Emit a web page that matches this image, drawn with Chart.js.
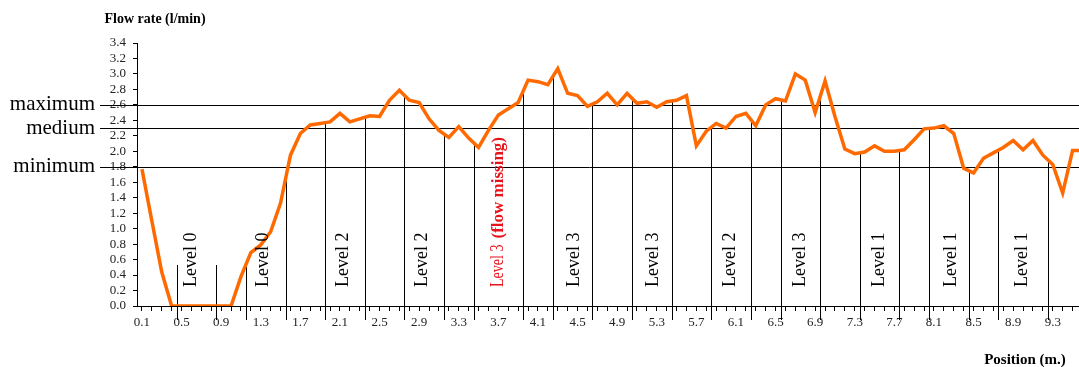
<!DOCTYPE html>
<html><head><meta charset="utf-8">
<script src="https://cdn.jsdelivr.net/npm/chart.js@4.4.0/dist/chart.umd.min.js"></script>
<style>html,body{margin:0;padding:0;background:#fff;}#wrap{width:1079px;height:367px;position:relative;}</style>
</head><body><div id="wrap"><canvas id="c"></canvas></div>
<script>
// Position along the pipe (m.)
const positions = [0.1,0.2,0.3,0.4,0.5,0.6,0.7,0.8,0.9,1.0,
  1.1,1.2,1.3,1.4,1.5,1.6,1.7,1.8,1.9,2.0,
  2.1,2.2,2.3,2.4,2.5,2.6,2.7,2.8,2.9,3.0,
  3.1,3.2,3.3,3.4,3.5,3.6,3.7,3.8,3.9,4.0,
  4.1,4.2,4.3,4.4,4.5,4.6,4.7,4.8,4.9,5.0,
  5.1,5.2,5.3,5.4,5.5,5.6,5.7,5.8,5.9,6.0,
  6.1,6.2,6.3,6.4,6.5,6.6,6.7,6.8,6.9,7.0,
  7.1,7.2,7.3,7.4,7.5,7.6,7.7,7.8,7.9,8.0,
  8.1,8.2,8.3,8.4,8.5,8.6,8.7,8.8,8.9,9.0,
  9.1,9.2,9.3,9.4,9.5,9.6];
// Flow rate (l/min)
const flowRate = [1.77,1.10,0.44,0.00,0.00,0.00,0.00,0.00,0.00,0.00,
  0.38,0.69,0.79,0.96,1.33,1.95,2.23,2.34,2.36,2.38,
  2.49,2.38,2.42,2.46,2.45,2.66,2.79,2.66,2.63,2.42,
  2.27,2.18,2.32,2.17,2.05,2.27,2.47,2.55,2.63,2.92,
  2.90,2.86,3.07,2.75,2.72,2.58,2.64,2.75,2.60,2.75,
  2.62,2.64,2.57,2.64,2.66,2.72,2.07,2.26,2.36,2.30,
  2.45,2.49,2.33,2.60,2.68,2.65,3.00,2.92,2.50,2.91,
  2.45,2.03,1.97,1.99,2.07,2.00,2.00,2.02,2.15,2.29,
  2.30,2.33,2.23,1.78,1.72,1.91,1.98,2.05,2.14,2.02,
  2.14,1.95,1.83,1.46,2.01,2.01];
const xTickLabels = ['0.1','0.5','0.9','1.3','1.7','2.1','2.5','2.9','3.3','3.7','4.1','4.5',
  '4.9','5.3','5.7','6.1','6.5','6.9','7.3','7.7','8.1','8.5','8.9','9.3'];
const yTickValues = [0,0.2,0.4,0.6,0.8,1.0,1.2,1.4,1.6,1.8,2.0,2.2,2.4,2.6,2.8,3.0,3.2,3.4];
const refLineValues = [2.6, 2.3, 1.8];
const refLineNames = ['maximum','medium','minimum'];
const dividerPositions = [0.45,0.85,1.15,1.55,1.95,2.35,2.75,3.15,3.45,3.95,4.25,4.65,
  5.05,5.45,5.85,6.25,6.55,6.95,7.35,7.75,8.05,8.45,8.75,9.25];
const dividerMinTop = 0.53;
const levelLabels = ['Level 0','Level 0','Level 2','Level 2','Level 3','Level 3','Level 3','Level 2','Level 3','Level 1','Level 1','Level 1'];
const levelNotes = ['','','','','(flow missing)','','','','','','',''];
const levelPositions = [0.60,1.33,2.13,2.93,3.70,4.47,5.26,6.04,6.75,7.55,8.27,8.99];

const SERIF = '"Liberation Serif", "Times New Roman", serif';

function flowAt(m){
  for(let i=0;i<positions.length-1;i++){
    if(m>=positions[i]-1e-9 && m<=positions[i+1]+1e-9){
      const t=(m-positions[i])/(positions[i+1]-positions[i]);
      return flowRate[i]+(flowRate[i+1]-flowRate[i])*t;
    }
  }
  return 0;
}

const overlay = {
  id:'overlay',
  beforeDatasetsDraw(chart){
    const {ctx, chartArea:a, scales:{x,y}} = chart;
    ctx.save();
    ctx.strokeStyle='#000'; ctx.lineWidth=1;
    refLineValues.forEach(v=>{
      const py=Math.round(y.getPixelForValue(v))+0.5;
      ctx.beginPath(); ctx.moveTo(100,py); ctx.lineTo(a.right,py); ctx.stroke();
    });
    dividerPositions.forEach(m=>{
      const px=Math.round(x.getPixelForValue(m))+0.5;
      const top=y.getPixelForValue(Math.max(flowAt(m), dividerMinTop));
      ctx.beginPath(); ctx.moveTo(px, a.bottom+14); ctx.lineTo(px, top); ctx.stroke();
    });
    ctx.fillStyle='#000'; ctx.font='21px '+SERIF; ctx.textAlign='right'; ctx.textBaseline='alphabetic';
    refLineValues.forEach((v,i)=>ctx.fillText(refLineNames[i], 95, y.getPixelForValue(v)+5.5));
    ctx.restore();
  },
  afterDraw(chart){
    const {ctx, chartArea:a, scales:{x,y}} = chart;
    ctx.save();
    ctx.fillStyle='#000';
    ctx.font='bold 14px '+SERIF; ctx.textAlign='center'; ctx.textBaseline='middle';
    ctx.fillText('Flow rate (l/min)', 155, 19);
    ctx.font='bold 15px '+SERIF;
    ctx.fillText('Position (m.)', 1025, 360);
    levelLabels.forEach((lab,i)=>{
      const px=x.getPixelForValue(levelPositions[i]);
      ctx.save();
      if(levelNotes[i]){
        ctx.translate(px+5, a.bottom-19);
        ctx.rotate(-Math.PI/2);
        ctx.fillStyle='#e8121a'; ctx.textAlign='left'; ctx.textBaseline='alphabetic';
        ctx.save();
        ctx.scale(0.78,1);
        ctx.font='18px '+SERIF;
        ctx.fillText(lab,0,0);
        const w=ctx.measureText(lab).width*0.78;
        ctx.restore();
        ctx.font='bold 17px '+SERIF;
        ctx.fillText(levelNotes[i], w+6, 0);
      } else {
        ctx.translate(px, a.bottom-19);
        ctx.rotate(-Math.PI/2);
        ctx.fillStyle='#000'; ctx.textAlign='left'; ctx.textBaseline='middle';
        ctx.font='18px '+SERIF;
        ctx.fillText(lab,0,0);
      }
      ctx.restore();
    });
    ctx.restore();
  }
};

new Chart(document.getElementById('c'), {
  type:'line',
  data:{
    datasets:[{
      data: positions.map((p,i)=>({x:p, y:flowRate[i]})),
      borderColor:'#ff6a00', borderWidth:3.5, pointRadius:0, tension:0, fill:false
    }]
  },
  options:{
    responsive:true, maintainAspectRatio:false, animation:false,
    layout:{padding:{top:43,left:0,right:0,bottom:0}},
    plugins:{legend:{display:false}, tooltip:{enabled:false}},
    scales:{
      x:{
        type:'linear', min:0.05, max:9.565,
        afterBuildTicks(s){ s.ticks = positions.filter(p=>p<=9.56).map(v=>({value:v})); },
        afterFit(s){ s.height = 61; },
        grid:{drawOnChartArea:false, drawTicks:true, tickLength:5, color:'#000'},
        border:{display:true, color:'#000', width:1},
        ticks:{
          autoSkip:false, maxRotation:0, minRotation:0, padding:4, color:'#222',
          font:{family:SERIF, size:13},
          callback(v){ const s=Number(v).toFixed(1); return xTickLabels.includes(s)?s:''; }
        }
      },
      y:{
        min:0, max:3.4,
        afterBuildTicks(s){ s.ticks = yTickValues.map(v=>({value:v})); },
        afterFit(s){ s.width = 137; },
        grid:{drawOnChartArea:false, drawTicks:true, tickLength:4, color:'#000'},
        border:{display:true, color:'#000', width:1},
        ticks:{
          autoSkip:false, padding:7, color:'#222', font:{family:SERIF, size:13},
          callback(v){ return Number(v).toFixed(1); }
        }
      }
    }
  },
  plugins:[overlay]
});
</script></body></html>
